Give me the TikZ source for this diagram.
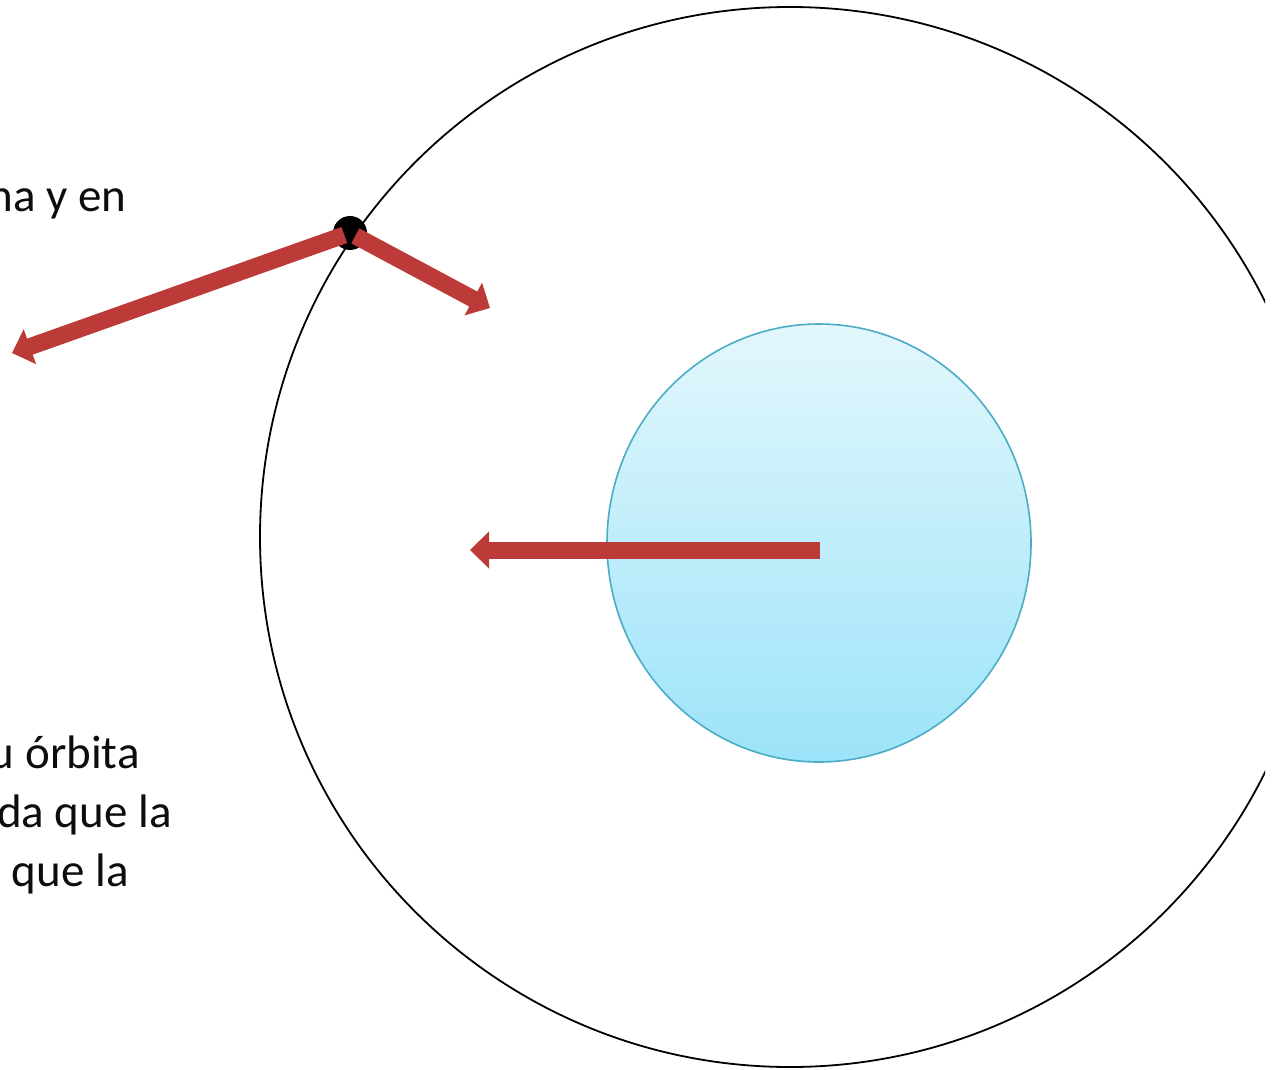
\documentclass[tikz,border=0pt]{standalone}
\usepackage{fontspec}
\setmainfont{Carlito}
\usetikzlibrary{arrows.meta,shapes.geometric}
\definecolor{orred}{HTML}{BC3B38}
\definecolor{orblue}{HTML}{4BACC6}
\definecolor{orskytop}{HTML}{E3F7FC}
\definecolor{orskybot}{HTML}{9CE3F9}
\definecolor{ortext}{HTML}{0D0D0D}

\begin{document}
\begin{tikzpicture}[x=0.5pt, y=-0.5pt, font=\fontsize{23.5}{29}\selectfont,
  orbit/.style={circle, draw=black, line width=0.9pt, minimum size=530pt, inner sep=0pt},
  planet/.style={ellipse, draw=orblue, line width=0.8pt, minimum width=212pt, minimum height=219pt, inner sep=0pt, top color=orskytop, bottom color=orskybot},
  sat/.style={circle, fill=black, minimum size=17pt, inner sep=0pt},
  vec/.style={-{Triangle[length=9.5pt,width=18pt]}, line width=8.5pt, draw=orred},
  txt/.style={anchor=base east, inner sep=0pt, text=ortext}]
\useasboundingbox (0,0) rectangle (1277,1069);
\clip (0,0) rectangle (1265,1069);
\node[orbit] (orb) at (790,537) {};
\node[planet] (earth) at (819,543) {};
\node[sat] (moon) at (350,233) {};
\coordinate (core) at (820,550);
\coordinate (pull) at (470,550);
\coordinate (fly) at (12,353);
\coordinate (fall) at (490,308);
\draw[vec] (core) -- (pull);
\draw[vec, shorten <=3pt] (moon.center) -- (fly);
\draw[vec, shorten <=3pt] (moon.center) -- (fall);
\node[txt] (t1) at (127,212) {na y en};
\node[txt] (t2) at (140,768) {u órbita};
\node[txt] (t3) at (172,827) {da que la};
\node[txt] (t4) at (129,886) {que la};
\end{tikzpicture}
\end{document}
